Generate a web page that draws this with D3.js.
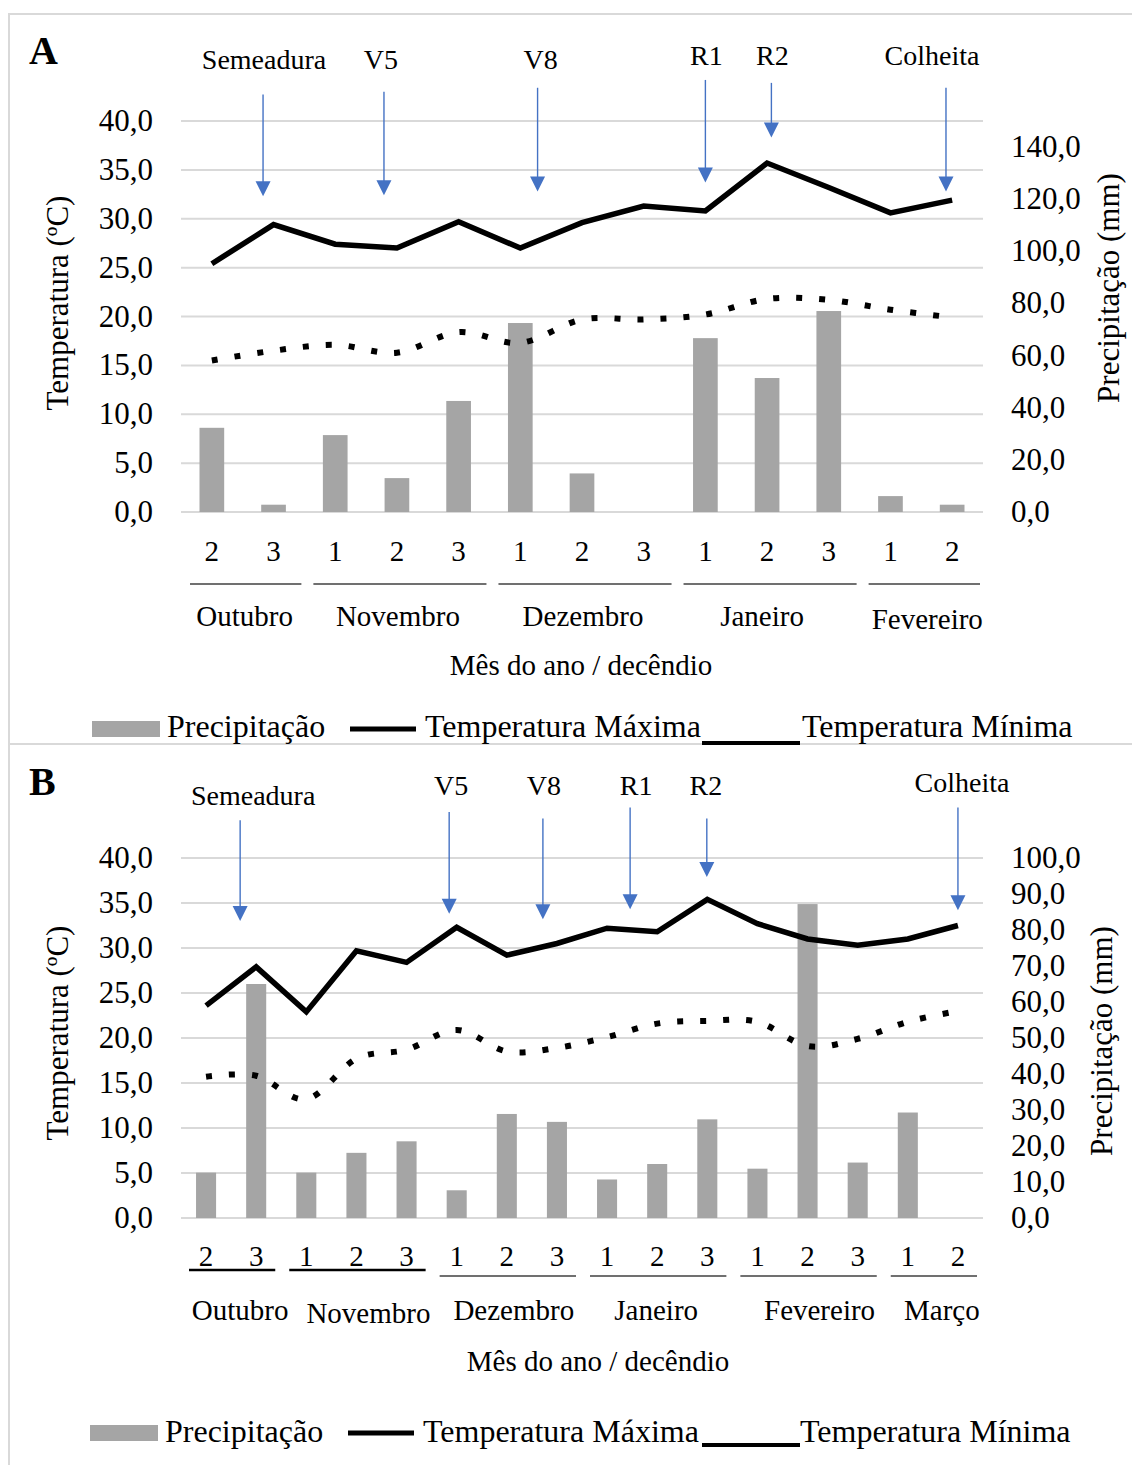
<!DOCTYPE html>
<html>
<head>
<meta charset="utf-8">
<script src="https://cdn.jsdelivr.net/npm/d3@7"></script>
<style>
  html, body { margin: 0; padding: 0; background: #fff; }
  svg { display: block; }
  text { font-family: "Liberation Serif", "Times New Roman", serif; fill: #000; }
</style>
</head>
<body>
<svg id="chart" width="1132" height="1465"></svg>
<script>
// ---------- Panel A: decêndios Out → Fev ----------
const decendiosA = ["2","3","1","2","3","1","2","3","1","2","3","1","2"];
const monthNamesA = ["Outubro","Novembro","Dezembro","Janeiro","Fevereiro"];
const monthSpansA = [2, 3, 3, 3, 2];
const precipA = [32.3, 2.8, 29.5, 13.0, 42.6, 72.5, 14.8, 0, 66.7, 51.4, 77.1, 6.1, 2.8];
const tmaxA   = [25.4, 29.4, 27.4, 27.0, 29.7, 27.0, 29.6, 31.3, 30.8, 35.7, 33.2, 30.6, 31.9];
const tminA   = [15.5, 16.5, 17.1, 16.3, 18.4, 17.3, 19.7, 19.7, 20.2, 21.8, 21.7, 20.7, 19.9];
const stageNamesA = ["Semeadura","V5","V8","R1","R2","Colheita"];
const stageAtA    = [0.83, 2.79, 5.28, 8.0, 9.07, 11.9];      // position in decêndio units
const stageTipA   = [32.3, 32.4, 32.8, 33.7, 38.3, 32.8];      // arrow tip level (°C)
const stageTopA   = [42.7, 43.0, 43.4, 44.2, 43.9, 43.4];      // arrow start level (°C)
const tempTicksA   = [0, 5, 10, 15, 20, 25, 30, 35, 40];
const precipTicksA = [0, 20, 40, 60, 80, 100, 120, 140];

// ---------- Panel B: decêndios Out → Mar ----------
const decendiosB = ["2","3","1","2","3","1","2","3","1","2","3","1","2","3","1","2"];
const monthNamesB = ["Outubro","Novembro","Dezembro","Janeiro","Fevereiro","Março"];
const monthSpansB = [2, 3, 3, 3, 3, 2];
const precipB = [12.6, 65.0, 12.6, 18.1, 21.3, 7.7, 28.9, 26.7, 10.7, 15.0, 27.4, 13.7, 87.2, 15.4, 29.3, 0];
const tmaxB   = [23.6, 27.9, 22.9, 29.7, 28.4, 32.3, 29.2, 30.5, 32.2, 31.8, 35.4, 32.7, 31.0, 30.3, 31.0, 32.5];
const tminB   = [15.7, 15.8, 13.2, 17.7, 18.7, 20.9, 18.5, 18.9, 20.1, 21.6, 21.9, 21.8, 19.1, 19.9, 21.8, 23.0];
const stageNamesB = ["Semeadura","V5","V8","R1","R2","Colheita"];
const stageAtB    = [0.68, 4.85, 6.72, 8.46, 9.99, 15.0];
const stageTipB   = [33.0, 33.8, 33.2, 34.3, 37.9, 34.2];
const stageTopB   = [44.2, 45.1, 44.4, 45.6, 44.4, 45.6];
const tempTicksB   = [0, 5, 10, 15, 20, 25, 30, 35, 40];
const precipTicksB = [0, 10, 20, 30, 40, 50, 60, 70, 80, 90, 100];

const legendLabels = ["Precipitação", "Temperatura Máxima", "Temperatura Mínima"];

const svg = d3.select("#chart");
const W = 1132, H = 1465;
const GRID = "#d9d9d9", BAR = "#a5a5a5", ARROW = "#4472c4";
const fmt = v => d3.format(".1f")(v).replace(".", ",");

svg.append("rect").attr("width", W).attr("height", H).attr("fill", "#fff");

// outer frame of the figure and the divider between panels
const frame = svg.append("g").attr("stroke", GRID).attr("stroke-width", 2).attr("fill", "none");
frame.append("line").attr("x1", 8).attr("x2", W).attr("y1", 14).attr("y2", 14);
frame.append("line").attr("x1", 9).attr("x2", 9).attr("y1", 14).attr("y2", H);
frame.append("line").attr("x1", 9).attr("x2", W).attr("y1", 744).attr("y2", 744);

function drawPanel(p) {
  const g = svg.append("g");
  const n = p.decendios.length;
  const idx = d3.range(n);

  const x = d3.scaleBand().domain(idx).range([p.x0, p.x1]).paddingInner(0.6).paddingOuter(0.3);
  const step = x.step();
  const cx = i => p.x0 + step * (i + 0.5);
  const yT = d3.scaleLinear().domain([0, 40]).range([p.bottom, p.top]);
  const yP = d3.scaleLinear().domain([0, p.precipMax]).range([p.bottom, p.top]);

  // horizontal gridlines (temperature axis)
  g.append("g").selectAll("line").data(p.tempTicks).join("line")
    .attr("x1", p.x0).attr("x2", p.x1)
    .attr("y1", d => yT(d)).attr("y2", d => yT(d))
    .attr("stroke", GRID).attr("stroke-width", 2);

  // precipitation bars
  g.append("g").selectAll("rect").data(p.precip).join("rect")
    .attr("x", (d, i) => cx(i) - x.bandwidth() / 2)
    .attr("width", x.bandwidth())
    .attr("y", d => yP(d))
    .attr("height", d => yP(0) - yP(d))
    .attr("fill", BAR);

  // maximum temperature (straight segments)
  const lineMax = d3.line().x((d, i) => cx(i)).y(d => yT(d));
  g.append("path").datum(p.tmax).attr("d", lineMax)
    .attr("fill", "none").attr("stroke", "#000").attr("stroke-width", 5.5);

  // minimum temperature (smoothed, dotted)
  const lineMin = d3.line().x((d, i) => cx(i)).y(d => yT(d)).curve(d3.curveCatmullRom.alpha(0));
  g.append("path").datum(p.tmin).attr("d", lineMin)
    .attr("fill", "none").attr("stroke", "#000").attr("stroke-width", 6)
    .attr("stroke-dasharray", "6 17");

  // left axis: temperature
  g.append("g").selectAll("text").data(p.tempTicks).join("text")
    .attr("x", 153).attr("y", d => yT(d) + 10)
    .attr("text-anchor", "end").attr("font-size", 31).text(fmt);

  // right axis: precipitation
  g.append("g").selectAll("text").data(p.precipTicks).join("text")
    .attr("x", 1011).attr("y", d => yP(d) + 10)
    .attr("font-size", 31).text(fmt);

  // axis titles
  g.append("text").attr("transform", `translate(${p.leftTitle[0]},${p.leftTitle[1]}) rotate(-90)`)
    .attr("text-anchor", "middle").attr("font-size", 31).text("Temperatura (ºC)");
  g.append("text").attr("transform", `translate(${p.rightTitle[0]},${p.rightTitle[1]}) rotate(-90)`)
    .attr("text-anchor", "middle").attr("font-size", 31).text("Precipitação (mm)");

  // decêndio labels
  g.append("g").selectAll("text").data(p.decendios).join("text")
    .attr("x", (d, i) => cx(i)).attr("y", p.decY)
    .attr("text-anchor", "middle").attr("font-size", 29).text(d => d);

  // month group underlines and month names
  let start = 0;
  p.monthNames.forEach((m, k) => {
    const span = p.monthSpans[k];
    const a = p.x0 + step * start, b = p.x0 + step * (start + span);
    const st = p.monthLine[k];
    g.append("line").attr("x1", a + p.inset[0]).attr("x2", b - p.inset[1])
      .attr("y1", p.monthLineY + st.dy).attr("y2", p.monthLineY + st.dy)
      .attr("stroke", st.c).attr("stroke-width", st.w);
    g.append("text").attr("x", (a + b) / 2 + p.monthDx[k]).attr("y", p.monthY + p.monthDy[k])
      .attr("text-anchor", "middle").attr("font-size", 29).text(m);
    start += span;
  });

  g.append("text").attr("x", p.titleX).attr("y", p.titleY)
    .attr("text-anchor", "middle").attr("font-size", 29).text("Mês do ano / decêndio");

  // phenological stage arrows
  p.stageNames.forEach((s, k) => {
    const ax = cx(p.stageAt[k]);
    const tip = yT(p.stageTip[k]), top = yT(p.stageTop[k]);
    g.append("line").attr("x1", ax).attr("x2", ax).attr("y1", top).attr("y2", tip - 12)
      .attr("stroke", ARROW).attr("stroke-width", 1.4);
    g.append("path").attr("d", `M${ax - 7.5},${tip - 15} L${ax + 7.5},${tip - 15} L${ax},${tip} Z`)
      .attr("fill", ARROW);
    g.append("text").attr("x", ax + p.stageDx[k]).attr("y", p.stageY[k])
      .attr("text-anchor", "middle").attr("font-size", 28).text(s);
  });

  // panel letter
  g.append("text").attr("x", 29).attr("y", p.letterY)
    .attr("font-size", 40).attr("font-weight", "bold").text(p.letter);

  // legend
  const L = p.legend;
  g.append("rect").attr("x", L.rect[0]).attr("y", L.rect[1]).attr("width", 68).attr("height", 16).attr("fill", BAR);
  g.append("text").attr("x", L.text[0]).attr("y", L.y).attr("font-size", 32).text(legendLabels[0]);
  g.append("line").attr("x1", L.line[0]).attr("x2", L.line[1]).attr("y1", L.line[2]).attr("y2", L.line[2])
    .attr("stroke", "#000").attr("stroke-width", 5);
  g.append("text").attr("x", L.text[1]).attr("y", L.y).attr("font-size", 32).text(legendLabels[1]);
  g.append("line").attr("x1", L.under[0]).attr("x2", L.under[1]).attr("y1", L.under[2]).attr("y2", L.under[2])
    .attr("stroke", "#000").attr("stroke-width", 4);
  g.append("text").attr("x", L.text[2]).attr("y", L.y).attr("font-size", 32).text(legendLabels[2]);
}

const thin = { dy: 0, w: 1.5, c: "#404040" };

drawPanel({
  letter: "A", letterY: 64,
  decendios: decendiosA, monthNames: monthNamesA, monthSpans: monthSpansA,
  precip: precipA, tmax: tmaxA, tmin: tminA,
  stageNames: stageNamesA, stageAt: stageAtA, stageTip: stageTipA, stageTop: stageTopA,
  stageDx: [1, -3, 3, 1, 1, -14], stageY: [69, 69, 69, 65, 65, 65],
  tempTicks: tempTicksA, precipTicks: precipTicksA, precipMax: 150,
  x0: 181, x1: 983, top: 121, bottom: 512,
  leftTitle: [68, 303], rightTitle: [1119, 288],
  decY: 561, monthLineY: 584, monthLine: [thin, thin, thin, thin, thin], inset: [9, 3],
  monthY: 626, monthDx: [2, 1, 1, -5, 6], monthDy: [0, 0, 0, 0, 3],
  titleX: 581, titleY: 675,
  legend: { rect: [92, 721], text: [167, 425, 802], y: 737, line: [350, 416, 729], under: [702, 800, 743] }
});

const boldLine = { dy: 0, w: 2.5, c: "#000" };
const thinB = { dy: 6, w: 1.5, c: "#404040" };

drawPanel({
  letter: "B", letterY: 795,
  decendios: decendiosB, monthNames: monthNamesB, monthSpans: monthSpansB,
  precip: precipB, tmax: tmaxB, tmin: tminB,
  stageNames: stageNamesB, stageAt: stageAtB, stageTip: stageTipB, stageTop: stageTopB,
  stageDx: [13, 2, 1, 6, -1, 4], stageY: [805, 795, 795, 795, 795, 792],
  tempTicks: tempTicksB, precipTicks: precipTicksB, precipMax: 100,
  x0: 181, x1: 983, top: 858, bottom: 1218,
  leftTitle: [68, 1033], rightTitle: [1112, 1041],
  decY: 1266, monthLineY: 1270, monthLine: [boldLine, boldLine, thinB, thinB, thinB, thinB], inset: [8, 6],
  monthY: 1320, monthDx: [9, 12, 7, -1, 12, 9], monthDy: [0, 3, 0, 0, 0, 0],
  titleX: 598, titleY: 1371,
  legend: { rect: [90, 1425], text: [165, 423, 800], y: 1442, line: [348, 414, 1433], under: [702, 800, 1445] }
});
</script>
</body>
</html>
